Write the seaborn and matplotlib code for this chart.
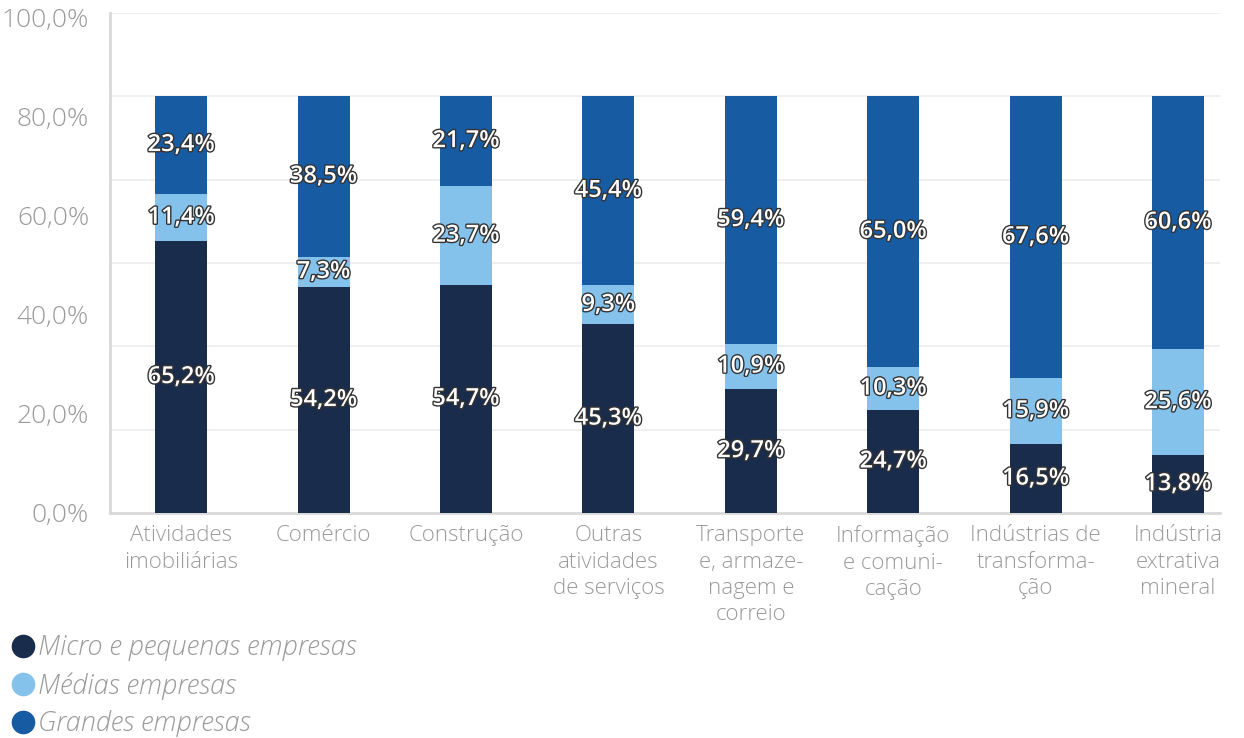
import matplotlib
matplotlib.use("Agg")
import matplotlib.pyplot as plt
import matplotlib.patheffects as pe
from matplotlib.lines import Line2D
import numpy as np
import pandas as pd
import seaborn as sns

# data (percent of each sector)
setores = ["Atividades\nimobiliárias", "Comércio", "Construção",
           "Outras\natividades\nde serviços", "Transporte\ne, armaze-\nnagem e\ncorreio",
           "Informação\ne comuni-\ncação", "Indústrias de\ntransforma-\nção",
           "Indústria\nextrativa\nmineral"]
micro_pequenas = [65.2, 54.2, 54.7, 45.3, 29.7, 24.7, 16.5, 13.8]
medias = [11.4, 7.3, 23.7, 9.3, 10.9, 10.3, 15.9, 25.6]
grandes = [23.4, 38.5, 21.7, 45.4, 59.4, 65.0, 67.6, 60.6]
series_names = ["Micro e pequenas empresas", "Médias empresas", "Grandes empresas"]
y_tick_labels = ["0,0%", "20,0%", "40,0%", "60,0%", "80,0%", "100,0%"]

colors = ["#1A2C4B", "#85C2EB", "#175BA3"]
grey = "#9a9a9a"

sns.set_style("white")
plt.rcParams["font.family"] = ["Open Sans", "DejaVu Sans"]

df = pd.DataFrame({"setor": setores, "micro": micro_pequenas,
                   "medias": medias, "grandes": grandes})
df["c1"] = df["micro"]
df["c2"] = df["micro"] + df["medias"]
df["c3"] = df["c2"] + df["grandes"]

fig = plt.figure(figsize=(12.44, 7.38), dpi=100)
ax = fig.add_axes([0.0884, 0.3049, 0.8923, 0.6775])

# stacked bars drawn back to front with cumulative heights
for col, c in zip(["c3", "c2", "c1"], colors[::-1]):
    sns.barplot(data=df, x="setor", y=col, color=c, width=0.365,
                saturation=1, linewidth=0, ax=ax, zorder=3)

# value labels centred in each segment
outline = [pe.withStroke(linewidth=2.0, foreground="#333333")]
for i, row in df.iterrows():
    bottoms = [0, row["c1"], row["c2"]]
    vals = [row["micro"], row["medias"], row["grandes"]]
    for b, v in zip(bottoms, vals):
        ax.text(i, b + v / 2, f"{v:.1f}%".replace(".", ","), ha="center",
                va="center", color="white", fontsize=17, fontweight="semibold",
                path_effects=outline, zorder=5)

ax.set_ylim(0, 120)
ax.set_xlim(-0.5, 7.295)
ax.set_yticks(np.linspace(0, 118.8, 6))
ax.set_yticklabels(y_tick_labels)
ax.set_yticks(np.arange(20, 121, 20), minor=True)
ax.grid(False)
ax.grid(True, which="minor", axis="y", color="#ececec", linewidth=1.2, zorder=0)
ax.tick_params(axis="y", which="both", length=0, pad=15, labelsize=19, labelcolor=grey)
ax.tick_params(axis="x", length=0, pad=9, labelsize=16, labelcolor=grey)
for lab in ax.get_xticklabels():
    lab.set_linespacing(1.33)
for lab in ax.get_xticklabels() + ax.get_yticklabels():
    lab.set_fontweight("light")
ax.set_xlabel("")
ax.set_ylabel("")
for s in ["top", "right"]:
    ax.spines[s].set_visible(False)
for s in ["left", "bottom"]:
    ax.spines[s].set_color("#d9d9d9")
    ax.spines[s].set_linewidth(2)

handles = [Line2D([], [], marker="o", linestyle="", markersize=16,
                  markerfacecolor=c, markeredgecolor=c) for c in colors]
leg = fig.legend(handles, series_names, loc="upper left",
                 bbox_to_anchor=(0.002, 0.148), frameon=False,
                 handletextpad=0.0, handlelength=1.1, labelspacing=0.4,
                 borderaxespad=0, borderpad=0.2,
                 prop={"size": 19.5, "style": "italic", "weight": "light"})
for t in leg.get_texts():
    t.set_color(grey)

fig.savefig("out.png", dpi=100)
